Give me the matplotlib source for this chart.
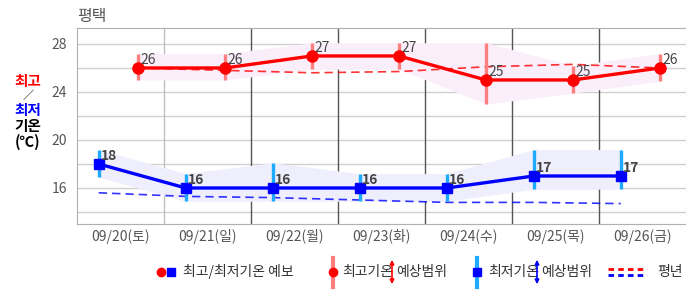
import numpy as np
import matplotlib.pyplot as plt

plt.rcParams['font.family'] = ['Noto Sans CJK KR', 'DejaVu Sans']

# 데이터
dates = ['09/20(토)', '09/21(일)', '09/22(월)', '09/23(화)', '09/24(수)', '09/25(목)', '09/26(금)']
tmax = [26, 26, 27, 27, 25, 25, 26]
tmax_hi = [27.2, 27.2, 28.1, 28.1, 28.1, 26.2, 27.2]
tmax_lo = [25.0, 25.0, 25.9, 25.9, 23.0, 23.9, 24.9]
tmax_normal = [26.0, 25.8, 25.6, 25.7, 26.1, 26.3, 26.0]
tmin = [18, 16, 16, 16, 16, 17, 17]
tmin_hi = [19.2, 17.2, 18.1, 17.2, 17.2, 19.2, 19.2]
tmin_lo = [16.9, 14.9, 14.9, 14.9, 14.9, 15.9, 15.9]
tmin_normal = [15.6, 15.3, 15.2, 15.0, 14.8, 14.8, 14.7]

RED = '#ff0000'
BLUE = '#0000ff'
RED_BAR = '#ff7f7f'
BLUE_BAR = '#1eaaff'
GRAY = '#555555'

idx = np.arange(len(dates))
xr = idx + 0.2    # 최고기온 위치
xb = idx - 0.25   # 최저기온 위치

fig = plt.figure(figsize=(6.86, 2.95), dpi=100)
ax = fig.add_axes([77 / 686, 71 / 295, 609 / 686, 196 / 295])

# 격자
for y in range(14, 30, 2):
    ax.axhline(y, color='#d0d0d0', lw=1, zorder=0)
for i in range(len(dates) - 1):
    c = '#c0c0c0' if i == 0 else '#555555'
    ax.axvline(i + 0.5, color=c, lw=1, zorder=0)

# 예상범위 영역
ax.fill_between(xr, tmax_lo, tmax_hi, color='#fbeefb', lw=0, zorder=1)
ax.fill_between(xb, tmin_lo, tmin_hi, color='#eeeefc', lw=0, zorder=1)

# 평년
ax.plot(xr, tmax_normal, color=RED, lw=1.2, ls=(0, (5, 3)), alpha=0.8, zorder=2)
ax.plot(xb, tmin_normal, color=BLUE, lw=1.2, ls=(0, (5, 3)), alpha=0.8, zorder=2)

# 예상범위 막대
ax.vlines(xr, tmax_lo, tmax_hi, color=RED_BAR, lw=2.4, zorder=3)
ax.vlines(xb, tmin_lo, tmin_hi, color=BLUE_BAR, lw=2.4, zorder=3)

# 예보
ax.plot(xr, tmax, color=RED, lw=2.4, marker='o', ms=8, zorder=4)
ax.plot(xb, tmin, color=BLUE, lw=2.4, marker='s', ms=7.5, zorder=4)

for x, v in zip(xr, tmax):
    ax.annotate(str(v), (x, v), xytext=(1.5, 1), textcoords='offset points',
                ha='left', va='bottom', fontsize=10, color='#444444', zorder=5)
for x, v in zip(xb, tmin):
    ax.annotate(str(v), (x, v), xytext=(1.5, 1), textcoords='offset points',
                ha='left', va='bottom', fontsize=10, color='#444444',
                fontweight='bold', zorder=5)

ax.set_xlim(-0.5, len(dates) - 0.5)
ax.set_ylim(13, 29.33)
ax.set_yticks([16, 20, 24, 28])
ax.set_xticks(idx)
ax.set_xticklabels(dates)
ax.tick_params(length=0, colors=GRAY, labelsize=10)
ax.tick_params(axis='y', pad=7)
for s in ax.spines.values():
    s.set_color('#b0b0b0')
ax.spines['right'].set_visible(False)

fig.text(77 / 686, 1 - 16 / 295, '평택', fontsize=11.5, color=GRAY,
         ha='left', va='center')

# y축 제목
ytx = 28 / 686
fig.text(ytx, 1 - 81 / 295, '최고', color=RED, fontsize=10.5, fontweight='bold', ha='center', va='center')
fig.text(ytx, 1 - 96 / 295, '／', color='black', fontsize=8, ha='center', va='center')
fig.text(ytx, 1 - 110 / 295, '최저', color=BLUE, fontsize=10.5, fontweight='bold', ha='center', va='center')
fig.text(ytx, 1 - 126 / 295, '기온', color='black', fontsize=10.5, fontweight='bold', ha='center', va='center')
fig.text(ytx, 1 - 142 / 295, '(℃)', color='black', fontsize=10.5, fontweight='bold', ha='center', va='center')

# 범례 (픽셀 좌표 축: y 250~295)
lg = fig.add_axes([0, 0, 1, 45 / 295])
lg.set_xlim(0, 686)
lg.set_ylim(295, 250)
lg.axis('off')
ly = 272
lg.plot([161], [ly], 'o', color=RED, ms=6)
lg.plot([171], [ly], 's', color=BLUE, ms=5.5)
lg.text(183, ly, '최고/최저기온 예보', fontsize=10, color='#333333', va='center')

lg.plot([333, 333], [258, 287], color=RED_BAR, lw=3)
lg.plot([333], [ly], 'o', color=RED, ms=6)
lg.text(342, ly, '최고기온', fontsize=10, color='#333333', va='center')
lg.annotate('', xy=(392, 257), xytext=(392, 287),
            arrowprops=dict(arrowstyle='<|-|>', color=RED, lw=1.2, mutation_scale=6))
lg.text(396, ly, '예상범위', fontsize=10, color='#333333', va='center')

lg.plot([477, 477], [258, 287], color=BLUE_BAR, lw=3)
lg.plot([477], [ly], 's', color=BLUE, ms=6)
lg.text(488, ly, '최저기온', fontsize=10, color='#333333', va='center')
lg.annotate('', xy=(537, 257), xytext=(537, 287),
            arrowprops=dict(arrowstyle='<|-|>', color=BLUE, lw=1.2, mutation_scale=6))
lg.text(541, ly, '예상범위', fontsize=10, color='#333333', va='center')

lg.plot([608, 647], [269, 269], color=RED, lw=2, ls=(0, (2, 1.5)))
lg.plot([608, 647], [275, 275], color=BLUE, lw=2, ls=(0, (2, 1.5)))
lg.text(657, ly, '평년', fontsize=10, color='#333333', va='center')

fig.savefig('out.png', dpi=100)
